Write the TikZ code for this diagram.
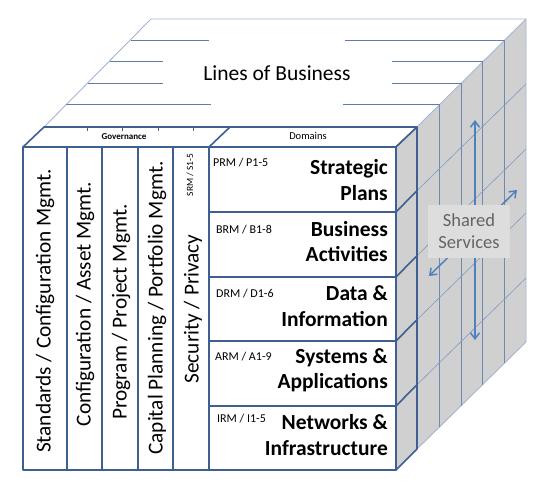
\documentclass[tikz,border=0pt]{standalone}
\usepackage{fontspec}
\setmainfont{Carlito}
\usetikzlibrary{arrows.meta}
\definecolor{frameblue}{RGB}{62,95,145}
\definecolor{lineblue}{RGB}{96,124,172}
\definecolor{lightline}{RGB}{165,182,210}
\definecolor{sideline}{RGB}{112,136,178}
\definecolor{diagline}{RGB}{130,152,195}
\definecolor{sidegrey}{RGB}{208,208,208}
\definecolor{boxgrey}{RGB}{221,221,221}
\definecolor{textgrey}{RGB}{100,100,100}
\definecolor{arrowblue}{RGB}{79,129,189}
\begin{document}
\begin{tikzpicture}[x=1pt,y=-1pt,
  frame/.style={draw=frameblue,line width=1.6pt,line join=round},
  topline/.style={draw=lineblue,line width=1pt},
  light/.style={draw=lightline,line width=0.9pt},
  sidev/.style={draw=sideline,line width=0.9pt},
  diag/.style={draw=diagline,line width=0.6pt},
  coltext/.style={rotate=90,font=\fontsize{21.3}{24}\selectfont,inner sep=0pt},
  reftext/.style={anchor=base west,font=\fontsize{12}{14}\selectfont,inner sep=0pt},
  domtext/.style={anchor=east,align=right,font=\fontsize{21.5}{25.5}\selectfont\bfseries,inner sep=0pt},
  twoway/.style={draw=arrowblue,line width=1.5pt,{Straight Barb[length=6pt,width=9pt]}-{Straight Barb[length=6pt,width=9pt]}}]
\useasboundingbox (0,0) rectangle (542,491);
\def\dx{21.67}
\def\dy{21.33}
% side face of the whole cube
\fill[sidegrey] (396,147) -- (526,19) -- (526,342) -- (396,470) -- cycle;
% top face
\fill[white] (44,127) -- (151,19) -- (526,19) -- (417,127) -- cycle;
\draw[light] (44,127) -- (151,19) -- (526,19) -- (526,342);
\draw[light] (417,127) -- (526,19);
\draw[light] (417,449) -- (526,342);
% lines of business (top face layers)
\foreach \d/\lx/\rx in {2/211/343, 3/163/392, 4/163/392, 5/209/345}{
  \pgfmathsetmacro{\yy}{147-\d*\dy}
  \pgfmathsetmacro{\xl}{23+\d*\dx}
  \pgfmathsetmacro{\xr}{396+\d*\dx}
  \draw[topline] (\xl,\yy) -- (\lx,\yy);
  \draw[topline] (\rx,\yy) -- (\xr,\yy);
  \draw[sidev] (\xr,\yy) -- (\xr,470-\d*\dy);
}
% row lines on the side face
\foreach \yr in {212,277,341,406}{
  \draw[diag] (417,\yr-\dy) -- (526,\yr-6*\dy);
}
% shared services arrows and label
\coordinate (vtop) at (475,120);
\coordinate (vbot) at (475,340);
\coordinate (dlo) at (429,276);
\coordinate (dhi) at (517,190);
\draw[twoway] (vbot) -- (vtop);
\draw[twoway] (dlo) -- (dhi);
\node[fill=boxgrey,text=textgrey,minimum width=82pt,minimum height=53pt,inner sep=0pt,align=center,
  font=\fontsize{18.5}{22}\selectfont] (shared) at (469,231.5) {Shared\\Services};
% top of the front block (header strip)
\draw[frame,fill=white] (23,147) -- (44,127) -- (417,127) -- (396,147) -- cycle;
\draw[frame] (209,147) -- (230,127);
\foreach \x in {87,122,158,193}{ \draw[frame,line width=1pt] (\x,127) -- (\x,130.5); }
\node[font=\fontsize{9}{10}\selectfont\bfseries,inner sep=0pt] (gov) at (124,137) {Governance};
\node[font=\fontsize{10.5}{12}\selectfont,inner sep=0pt] (dom) at (308,136) {Domains};
% side of the front block
\draw[frame,fill=sidegrey] (396,147) -- (417,127) -- (417,449) -- (396,470) -- cycle;
\foreach \yr in {212,277,341,406}{ \draw[frame] (396,\yr) -- (417,\yr-\dy); }
% front face
\draw[frame,fill=white] (23,147) rectangle (396,470);
\foreach \x in {67,102,138,173,209}{ \draw[frame] (\x,147) -- (\x,470); }
\foreach \y in {212,277,341,406}{ \draw[frame] (209,\y) -- (396,\y); }
% governance columns
\node[coltext] (c1) at (45,311) {Standards / Configuration Mgmt.};
\node[coltext] (c2) at (85,304) {Configuration / Asset Mgmt.};
\node[coltext] (c3) at (121,312) {Program / Project Mgmt.};
\node[coltext] (c4) at (157,308) {Capital Planning / Portfolio Mgmt.};
\node[coltext] (c5) at (193,309) {Security / Privacy};
\node[rotate=90,font=\fontsize{9.5}{10}\selectfont,inner sep=0pt] (srm) at (190,175) {SRM / S1-5};
% domains
\node[reftext] (r1) at (213,166) {PRM / P1-5};
\node[reftext] (r2) at (216,233) {BRM / B1-8};
\node[reftext] (r3) at (216,297) {DRM / D1-6};
\node[reftext] (r4) at (215,360) {ARM / A1-9};
\node[reftext] (r5) at (217,422) {IRM / I1-5};
\node[domtext] (d1) at (388,180) {Strategic\\Plans};
\node[domtext] (d2) at (388,241.5) {Business\\Activities};
\node[domtext] (d3) at (388,306) {Data \&\\Information};
\node[domtext] (d4) at (388,370.5) {Systems \&\\Applications};
\node[domtext] (d5) at (388,435) {Networks \&\\Infrastructure};
% top label
\node[font=\fontsize{21.5}{25}\selectfont,inner sep=0pt] (lob) at (277,73) {Lines of Business};
\end{tikzpicture}
\end{document}
